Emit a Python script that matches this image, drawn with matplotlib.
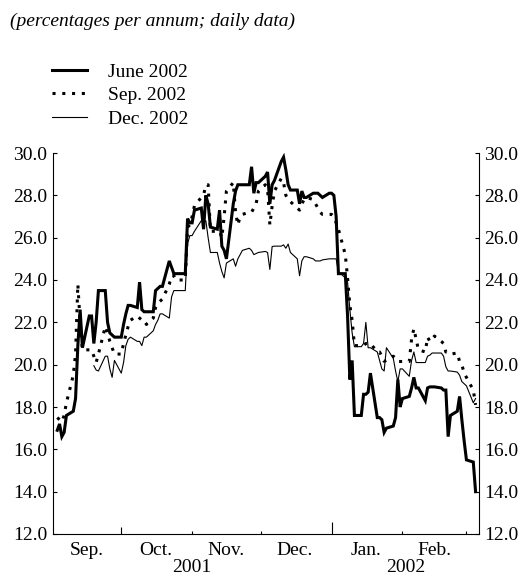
import matplotlib
matplotlib.use('Agg')
import matplotlib.pyplot as plt
import matplotlib.dates as mdates
import matplotlib.transforms as mtransforms
import numpy as np
import pandas as pd

plt.rcParams['font.family'] = ['Liberation Serif', 'DejaVu Serif']

# ---- data (business days, 3 Sep 2001 - 5 Mar 2002) ----
dates = pd.bdate_range('2001-09-03', '2002-03-05')

series_labels = ['June 2002', 'Sep. 2002', 'Dec. 2002']

june_2002 = [
    16.9, 17.2, 16.6, 16.8, 17.6, 17.8, 18.4, 20.9, 22.6, 20.8, 22.3, 22.3, 21.0, 22.0, 23.5, 23.5, 22.0, 21.5, 21.4, 21.3,
    21.3, 21.9, 22.4, 22.8, 22.8, 22.7, 23.9, 22.6, 22.5, 22.5, 22.5, 23.5, 23.6, 23.7, 23.7, 24.9, 24.6, 24.3, 24.3, 24.3, 24.3, 26.9, 26.7,
    26.7, 27.3, 27.4, 26.4, 28.0, 27.6, 26.5, 26.4, 27.3, 25.6, 25.4, 25.0, 27.6, 28.2, 28.5, 28.5, 28.5, 28.5, 29.35, 28.1, 28.6, 28.6,
    28.9, 29.1, 27.6, 28.5, 28.7, 29.6, 29.8, 29.2, 28.5, 28.25, 28.25, 27.6, 28.2, 27.9, 27.9, 28.1, 28.1, 28.1, 28.0, 27.9, 28.1,
    28.1, 28.0, 27.0, 24.3, 24.3, 22.3, 19.3, 20.2, 17.6, 17.6, 18.6, 18.6, 18.7, 19.6, 17.5, 17.5, 17.4, 16.8, 17.0, 17.1, 17.5, 19.3, 18.0,
    18.4, 18.5, 18.9, 19.4, 18.9, 18.9, 18.3, 18.9, 18.95, 18.95, 18.95, 18.9, 18.8, 18.8, 16.6, 17.6, 17.8, 18.5, 17.4, 16.4,
    15.5, 15.4, 14.0,
]

sep_2002 = [
    17.5, 17.4, 17.3, 17.6, 18.2, 19.5, 20.5, 23.8, 22.0, 20.7, 20.7, 20.7, 20.4, 20.1, 20.5, 21.8, 21.5, 21.1, 20.8, 20.5,
    20.5, 21.0, 21.4, 21.8, 22.1, 22.3, 22.2, 22.1, 22.1, 21.9, 22.2, 22.7, 22.9, 23.0, 23.1, 23.8, 24.2, 24.2, 24.0, 24.0, 24.0, 26.5, 26.6,
    27.0, 27.5, 27.9, 28.0, 28.5, 28.5, 26.3, 26.3, 26.3, 26.0, 27.0, 28.2, 28.6, 27.2, 26.6, 27.0, 27.1, 27.2, 27.2, 27.4, 27.6, 28.2,
    28.5, 28.3, 26.6, 27.5, 28.2, 28.8, 28.6, 28.0, 27.8, 27.7, 27.4, 27.3, 27.6, 27.8, 27.9, 27.8, 27.6, 27.4, 27.2, 27.1, 27.1,
    27.1, 27.0, 26.7, 26.4, 25.2, 24.1, 22.8, 22.1, 20.9, 20.9, 20.9, 21.0, 21.0, 21.0, 20.6, 20.6, 20.4, 20.16, 20.2, 20.4, 20.3, 20.15, 20.15,
    20.15, 20.15, 21.2, 21.7, 21.2, 20.7, 20.6, 21.3, 21.1, 21.2, 21.35, 21.1, 21.0, 20.6, 20.6, 20.5, 20.55, 20.15, 20.0, 19.6,
    19.4, 18.8, 18.1,
]

dec_2002 = [
    np.nan, np.nan, np.nan, np.nan, np.nan, np.nan, np.nan, np.nan, np.nan, np.nan, np.nan, np.nan,
    19.95, 19.75, 19.7, 20.4, 20.4, 19.8, 19.4, 20.2,
    19.6, 20.1, 20.9, 21.2, 21.3, 21.1, 21.1, 20.9, 21.3, 21.3, 21.6, 21.9, 22.1, 22.4, 22.4, 22.2, 23.2, 23.5, 23.5, 23.5, 23.5, 25.7, 26.1,
    26.1, 26.3, 26.8, 26.7, 26.8, 26.0, 25.3, 25.3, 24.8, 24.4, 24.1, 24.8, 25.0, 24.65, 25.0, 25.2, 25.4, 25.5, 25.4, 25.2, 25.25, 25.3,
    25.35, 25.3, 24.5, 25.58, 25.6, 25.6, 25.66, 25.5, 25.7, 25.3, 25.0, 24.2, 24.9, 25.1, 25.1, 25.0, 24.9, 24.9, 24.9, 24.95, 25.0,
    25.0, 25.0, 25.0, 24.4, 24.1, 23.9, 22.6, 21.5, 20.85, 20.85, 21.0, 22.0, 20.8, 20.8, 20.6, 20.2, 19.8, 19.7, 20.8, 20.3, 19.7, 19.2, 19.8,
    19.8, 19.45, 20.2, 20.6, 20.1, 20.1, 20.1, 20.4, 20.45, 20.55, 20.55, 20.55, 20.4, 19.9, 19.7, 19.7, 19.65, 19.5, 19.2, 19.1,
    19.0, 18.2, 18.4,
]

month_starts = ['2001-10-01', '2001-11-01', '2001-12-01', '2002-01-01', '2002-02-01', '2002-03-01']
month_mids = ['2001-09-16', '2001-10-16', '2001-11-16', '2001-12-16', '2002-01-16', '2002-02-15']
month_labels = ['Sep.', 'Oct.', 'Nov.', 'Dec.', 'Jan.', 'Feb.']
year_labels = ['2001', '2002']
y_ticks = [12, 14, 16, 18, 20, 22, 24, 26, 28, 30]

x_start, x_end = '2001-09-01', '2002-03-06 12:00'

assert len(june_2002) == len(dates) == len(sep_2002) == len(dec_2002)

# ---- figure ----
W, H = 528, 579
fig = plt.figure(figsize=(W / 100, H / 100), dpi=100)
L, R, T, B = 52.7, 479, 153, 534
ax = fig.add_axes([L / W, 1 - B / H, (R - L) / W, (B - T) / H])

x = mdates.date2num(dates.to_pydatetime())
ax.plot(x, june_2002, color='black', lw=2.2, solid_joinstyle='miter', label=series_labels[0])
ax.plot(x, sep_2002, color='black', lw=2.2, linestyle=(0, (1, 2.2)), dash_capstyle='butt',
        label=series_labels[1])
ax.plot(x, dec_2002, color='black', lw=0.8, label=series_labels[2])

ax.set_xlim(mdates.date2num(pd.Timestamp(x_start)), mdates.date2num(pd.Timestamp(x_end)))
ax.set_ylim(12, 30)

ax.spines['top'].set_visible(False)
for s in ('left', 'right', 'bottom'):
    ax.spines[s].set_linewidth(0.8)

ax.set_yticks(y_ticks)
ax.set_yticklabels([f'{v:.1f}' for v in y_ticks])
ax.tick_params(axis='y', which='both', direction='in', length=3, width=0.8,
               left=True, right=True, labelleft=True, labelright=True, labelsize=14, pad=4)

major = mdates.date2num([pd.Timestamp(d) for d in month_starts])
ax.set_xticks(major)
ax.set_xticklabels([''] * len(major))
ax.tick_params(axis='x', which='major', direction='in', length=2.5, width=0.8)
for t, d in zip(ax.xaxis.get_major_ticks(), month_starts):
    if d.endswith('01-01'):
        t.tick1line.set_markersize(8.5)
    elif d.endswith('10-01'):
        t.tick1line.set_markersize(5)

minor = mdates.date2num([pd.Timestamp(d) for d in month_mids])
ax.set_xticks(minor, minor=True)
ax.set_xticklabels(month_labels, minor=True)
ax.tick_params(axis='x', which='minor', length=0, labelsize=14, pad=5.5)

trans = mtransforms.blended_transform_factory(ax.transData, ax.transAxes)
jan1 = mdates.date2num(pd.Timestamp('2002-01-01'))
x0, x1 = ax.get_xlim()
y_year = -(568 - B) / (B - T)
ax.text((x0 + jan1) / 2, y_year, year_labels[0], transform=trans, ha='center', va='center', fontsize=14)
ax.text((jan1 + x1) / 2, y_year, year_labels[1], transform=trans, ha='center', va='center', fontsize=14)

leg = ax.legend(loc='upper left', bbox_to_anchor=(52 / W, 1 - 63 / H), bbox_transform=fig.transFigure,
                frameon=False, fontsize=14, handlelength=1.8, handletextpad=1.1,
                labelspacing=0.3, borderpad=0, borderaxespad=0)

fig.text(10 / W, 1 - 21 / H, '(percentages per annum; daily data)', style='italic',
         fontsize=14, ha='left', va='center')

fig.savefig('out.png', dpi=100)
